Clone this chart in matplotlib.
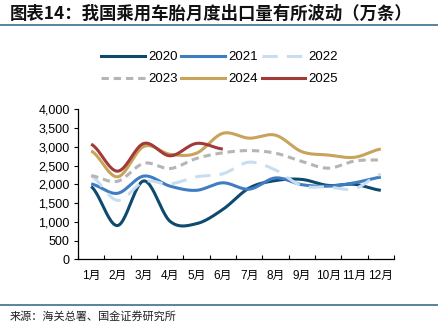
import numpy as np
import matplotlib
matplotlib.use("Agg")
import matplotlib.pyplot as plt
from matplotlib.lines import Line2D
from matplotlib.ticker import FuncFormatter

plt.rcParams['font.family'] = ['Liberation Sans', 'Noto Sans CJK SC', 'DejaVu Sans']

months = ['1月', '2月', '3月', '4月', '5月', '6月', '7月', '8月', '9月', '10月', '11月', '12月']
y2020 = [1940, 900, 2090, 1010, 950, 1330, 1900, 2100, 2130, 1970, 2000, 1840]
y2021 = [2010, 1760, 2220, 1950, 1840, 2040, 1870, 2170, 1990, 1950, 2040, 2190]
y2022 = [2220, 1570, 2070, 2010, 2200, 2280, 2590, 2380, 1960, 1930, 1880, 2270]
y2023 = [2230, 2080, 2560, 2420, 2690, 2840, 2900, 2830, 2610, 2430, 2620, 2650]
y2024 = [2890, 2200, 3010, 2800, 2830, 3360, 3230, 3310, 2870, 2780, 2720, 2940]
y2025 = [3070, 2350, 3090, 2760, 3090, 2940]
series_names = ['2020', '2021', '2022', '2023', '2024', '2025']
yticks = [0, 500, 1000, 1500, 2000, 2500, 3000, 3500, 4000]

title = '图表14：我国乘用车胎月度出口量有所波动（万条）'
source = '来源：海关总署、国金证券研究所'


def smooth(vals, n=24):
    """Catmull-Rom smoothing through the data points (Excel-like smoothed line)."""
    v = np.asarray(vals, dtype=float)
    x = np.arange(len(v), dtype=float)
    xs, ys = [], []
    for i in range(len(v) - 1):
        p0 = v[i - 1] if i > 0 else v[i]
        p1, p2 = v[i], v[i + 1]
        p3 = v[i + 2] if i + 2 < len(v) else v[i + 1]
        t = np.linspace(0, 1, n, endpoint=(i == len(v) - 2))
        m1 = (p2 - p0) / 2.0
        m2 = (p3 - p1) / 2.0
        h00 = 2 * t**3 - 3 * t**2 + 1
        h10 = t**3 - 2 * t**2 + t
        h01 = -2 * t**3 + 3 * t**2
        h11 = t**3 - t**2
        ys.append(h00 * p1 + h10 * m1 + h01 * p2 + h11 * m2)
        xs.append(x[i] + t)
    return np.concatenate(xs), np.concatenate(ys)


fig = plt.figure(figsize=(4.38, 3.24), dpi=100)
ax = fig.add_axes([78 / 438, 1 - 259.3 / 324, (394 - 78) / 438, (259.3 - 109.3) / 324])

lw = 2.2
styles = {
    '2020': dict(color='#0d4a6e', ls='-'),
    '2021': dict(color='#3f7dc3', ls='-'),
    '2022': dict(color='#c8ddf1', ls=(0, (5.0, 3.0))),
    '2023': dict(color='#b5b5b5', ls=(0, (2.4, 1.6))),
    '2024': dict(color='#c8a35a', ls='-'),
    '2025': dict(color='#a23a3a', ls='-'),
}
data = [y2020, y2021, y2022, y2023, y2024, y2025]
for name, vals in zip(series_names, data):
    xs, ys = smooth(vals)
    ax.plot(xs, ys, color=styles[name]['color'], linestyle=styles[name]['ls'],
            lw=lw, solid_capstyle='butt', dash_capstyle='butt')

ax.set_xlim(-0.5, 11.5)
ax.set_ylim(0, 4000)
ax.set_yticks(yticks)
ax.yaxis.set_major_formatter(FuncFormatter(lambda v, p: f'{int(v):,}'))
ax.set_xticks(np.arange(-0.5, 12, 1.0))
ax.set_xticklabels([])
ax.set_xticks(np.arange(12), minor=True)
ax.set_xticklabels(months, minor=True, fontsize=8.5)
ax.tick_params(axis='x', which='major', direction='in', length=3, width=0.8)
ax.tick_params(axis='x', which='minor', length=0, pad=8)
ax.tick_params(axis='y', direction='out', length=3, width=0.8, labelsize=9, pad=3)
for s in ['top', 'right']:
    ax.spines[s].set_visible(False)
for s in ['left', 'bottom']:
    ax.spines[s].set_linewidth(0.9)

handles = [Line2D([0], [0], color=styles[n]['color'], linestyle=styles[n]['ls'], lw=lw,
                  dash_capstyle='butt') for n in series_names]
order = [0, 3, 1, 4, 2, 5]
fig.legend([handles[i] for i in order], [series_names[i] for i in order],
           ncol=3, loc='upper left', bbox_to_anchor=(101 / 438, 1 - 51 / 324),
           frameon=False, fontsize=9.5, handlelength=3.3, handletextpad=0.25,
           columnspacing=0.3, labelspacing=0.75, borderpad=0, borderaxespad=0)

fig.text(10 / 438, 1 - 14 / 324, title, fontsize=12.5, fontweight='bold',
         family=['Noto Sans CJK SC', 'DejaVu Sans'], va='center', ha='left', color='#111111')
fig.add_artist(Line2D([0, 1], [1 - 25 / 324, 1 - 25 / 324], color='#3a6f8f', lw=1.2))
fig.add_artist(Line2D([0, 1], [1 - 305 / 324, 1 - 305 / 324], color='#3a6f8f', lw=1.2))
fig.text(10 / 438, 1 - 316 / 324, source, fontsize=8,
         family=['Noto Sans CJK SC', 'DejaVu Sans'], va='center', ha='left', color='#222222')

fig.savefig('out.png', dpi=100)
